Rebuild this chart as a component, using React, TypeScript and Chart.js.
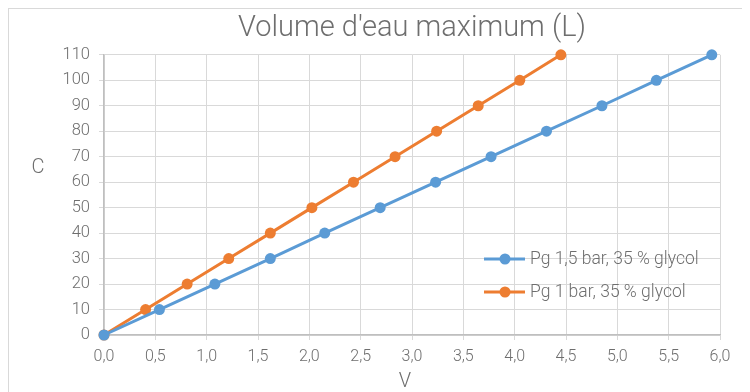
import React, { useEffect, useRef } from "react";
import { Chart, registerables } from "chart.js";

Chart.register(...registerables);

const TITLE = "Volume d'eau maximum (L)";
const X_TITLE = "V";
const Y_TITLE = "C";
const SERIES_NAMES = ["Pg 1,5 bar, 35 % glycol", "Pg 1 bar, 35 % glycol"];
const C_VALUES = [0, 10, 20, 30, 40, 50, 60, 70, 80, 90, 100, 110];
const V_BLUE = [0, 0.54, 1.08, 1.62, 2.15, 2.69, 3.23, 3.77, 4.31, 4.85, 5.38, 5.92];
const V_ORANGE = [0, 0.405, 0.81, 1.215, 1.62, 2.025, 2.43, 2.835, 3.24, 3.645, 4.05, 4.45];
const X_TICK_LABELS = ["0,0", "0,5", "1,0", "1,5", "2,0", "2,5", "3,0", "3,5", "4,0", "4,5", "5,0", "5,5", "6,0"];
const Y_TICK_LABELS = ["0", "10", "20", "30", "40", "50", "60", "70", "80", "90", "100", "110"];

const BLUE = "#5b9bd5";
const ORANGE = "#ed7d31";
const TEXT = "#6e6e6e";
const GRID = "#d9d9d9";
const FONT = "Roboto, 'Liberation Sans', sans-serif";

const extrasPlugin = {
  id: "extras",
  afterDraw(chart: any) {
    const ctx = chart.ctx;
    ctx.save();
    ctx.fillStyle = TEXT;
    ctx.font = `300 20px ${FONT}`;
    ctx.textAlign = "center";
    ctx.textBaseline = "middle";
    ctx.fillText(Y_TITLE, 29, 159);
    ctx.fillText(X_TITLE, 396, 373);
    // legend
    const items = [
      { name: SERIES_NAMES[0], color: BLUE, y: 250 },
      { name: SERIES_NAMES[1], color: ORANGE, y: 283 },
    ];
    ctx.font = `300 17.5px ${FONT}`;
    ctx.textAlign = "left";
    for (const it of items) {
      ctx.strokeStyle = it.color;
      ctx.lineWidth = 3;
      ctx.beginPath();
      ctx.moveTo(475, it.y);
      ctx.lineTo(516, it.y);
      ctx.stroke();
      ctx.fillStyle = it.color;
      ctx.beginPath();
      ctx.arc(496, it.y, 5.5, 0, Math.PI * 2);
      ctx.fill();
      ctx.fillStyle = TEXT;
      ctx.fillText(it.name, 521, it.y + 1);
    }
    ctx.restore();
  },
};

export default function App() {
  const ref = useRef<HTMLCanvasElement | null>(null);
  useEffect(() => {
    if (!ref.current) return;
    const chart = new Chart(ref.current, {
      type: "line",
      data: {
        datasets: [
          {
            label: SERIES_NAMES[0],
            data: V_BLUE.map((v, i) => ({ x: v, y: C_VALUES[i] })),
            borderColor: BLUE,
            backgroundColor: BLUE,
            borderWidth: 3,
            pointRadius: 5.5,
            pointBorderWidth: 0,
            clip: false,
          },
          {
            label: SERIES_NAMES[1],
            data: V_ORANGE.map((v, i) => ({ x: v, y: C_VALUES[i] })),
            borderColor: ORANGE,
            backgroundColor: ORANGE,
            borderWidth: 3,
            pointRadius: 5.5,
            pointBorderWidth: 0,
            clip: false,
          },
        ],
      },
      options: {
        responsive: false,
        animation: false,
        layout: { padding: { right: 30, left: 0, bottom: 0, top: 0 } },
        plugins: {
          legend: { display: false },
          tooltip: { enabled: false },
          title: {
            display: true,
            text: TITLE,
            fullSize: false,
            color: TEXT,
            font: { family: FONT, size: 29, weight: "300", lineHeight: 1.2 },
            padding: { top: 2, bottom: 9 },
          },
        },
        scales: {
          x: {
            type: "linear",
            min: 0,
            max: 6,
            ticks: {
              stepSize: 0.5,
              color: TEXT,
              font: { family: FONT, size: 16, weight: "300" },
              padding: 7,
              maxRotation: 0,
              autoSkip: false,
              callback: (v: any, i: number) => X_TICK_LABELS[i],
            },
            grid: { color: GRID, tickLength: 5, lineWidth: 1 },
            border: { color: "#bfbfbf", width: 1.5 },
            afterFit: (s: any) => {
              s.height = 57;
            },
          },
          y: {
            type: "linear",
            min: 0,
            max: 110,
            ticks: {
              stepSize: 10,
              color: TEXT,
              font: { family: FONT, size: 16.5, weight: "300" },
              padding: 9,
              callback: (v: any, i: number) => Y_TICK_LABELS[i],
            },
            grid: { color: GRID, tickLength: 5, lineWidth: 1 },
            border: { color: "#bfbfbf", width: 1.5 },
            afterFit: (s: any) => {
              s.width = 95;
            },
          },
        },
      },
      plugins: [extrasPlugin],
    } as any);
    return () => chart.destroy();
  }, []);
  return (
    <div
      style={{
        width: 742,
        height: 384,
        boxSizing: "border-box",
        borderLeft: "1px solid #d9d9d9",
        borderTop: "1px solid #d9d9d9",
        background: "#fff",
      }}
    >
      <canvas ref={ref} width={741} height={383} style={{ display: "block" }} />
    </div>
  );
}
